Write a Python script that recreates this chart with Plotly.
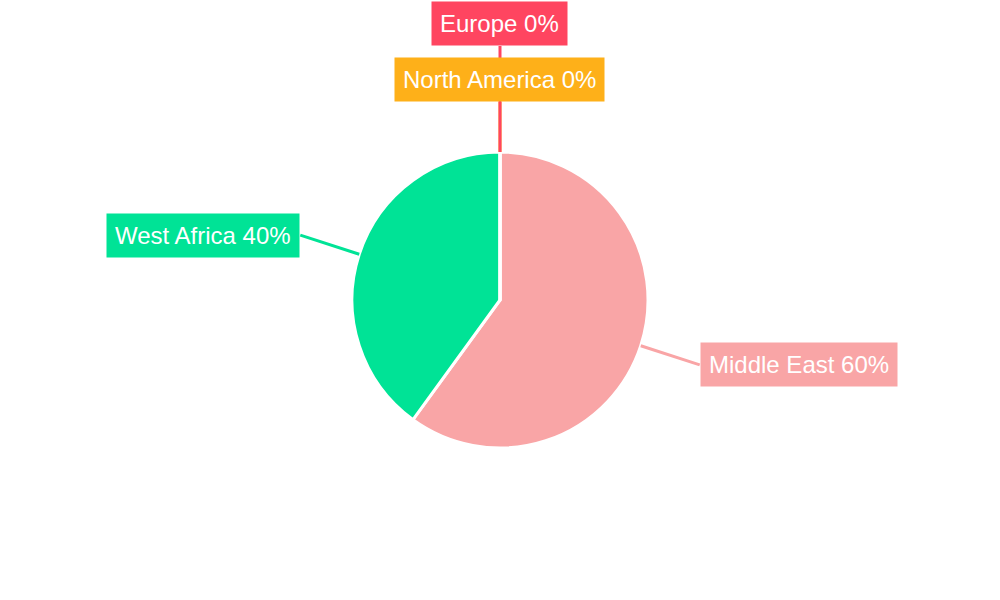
import math
import plotly.graph_objects as go

# Regions and their share
regions = ['Middle East', 'West Africa', 'North America', 'Europe']
values = [60, 40, 0, 0]
colors = ['#F9A5A6', '#00E396', '#FEB019', '#FF4560']

W, H = 1000, 600
cx, cy, R = 500, 300, 148  # pie centre and radius in pixels
side_lead = 62   # leader length for side labels
top_lead = 50    # leader length for labels straight up/down
stack_gap = 56   # vertical spacing when labels sit on the same angle

fig = go.Figure(go.Pie(
    labels=regions,
    values=values,
    sort=False,
    direction='clockwise',
    rotation=0,
    marker=dict(colors=colors, line=dict(color='white', width=3)),
    textinfo='none',
    hoverinfo='label+percent',
    showlegend=False,
    domain=dict(x=[0, 1], y=[(cy - R) / H, (cy + R) / H]),
))


def px(x, y):
    return x / W, 1 - y / H


total = sum(values)
start = 0.0
used_tops = {}
shapes = []
annotations = []
for name, val, col in zip(regions, values, colors):
    sweep = val / total * 360
    mid = math.radians(start + sweep / 2)
    start += sweep
    dx, dy = math.sin(mid), -math.cos(mid)
    ex, ey = cx + R * dx, cy + R * dy
    pct = f'{name} {round(val / total * 100)}%'
    if abs(dx) > 0.1:
        lx, ly = cx + (R + side_lead) * dx, cy + (R + side_lead) * dy
        xanchor, yanchor = ('left' if dx > 0 else 'right'), 'middle'
    else:
        key = round(math.degrees(mid)) % 360
        n = used_tops.get(key, 0)
        used_tops[key] = n + 1
        lx = cx + (R + top_lead) * dx
        ly = cy + (R + top_lead) * dy + dy * n * stack_gap
        xanchor, yanchor = 'center', ('bottom' if dy < 0 else 'top')
    x0, y0 = px(ex, ey)
    x1, y1 = px(lx, ly)
    shapes.append(dict(type='line', xref='paper', yref='paper',
                       x0=x0, y0=y0, x1=x1, y1=y1,
                       line=dict(color=col, width=3)))
    annotations.append(dict(x=x1, y=y1, xref='paper', yref='paper',
                            text=pct, showarrow=False,
                            xanchor=xanchor, yanchor=yanchor,
                            bgcolor=col, borderpad=8,
                            font=dict(color='white', size=24,
                                      family='Liberation Sans, Arial, sans-serif')))

fig.update_layout(
    width=W, height=H,
    margin=dict(l=0, r=0, t=0, b=0),
    paper_bgcolor='white',
    shapes=shapes,
    annotations=annotations,
)

# drop the browser's default page margin so the figure sits at the window corner
fig.write_html("out.html", config={'displayModeBar': False},
               post_script="document.body.style.margin = '0';")
